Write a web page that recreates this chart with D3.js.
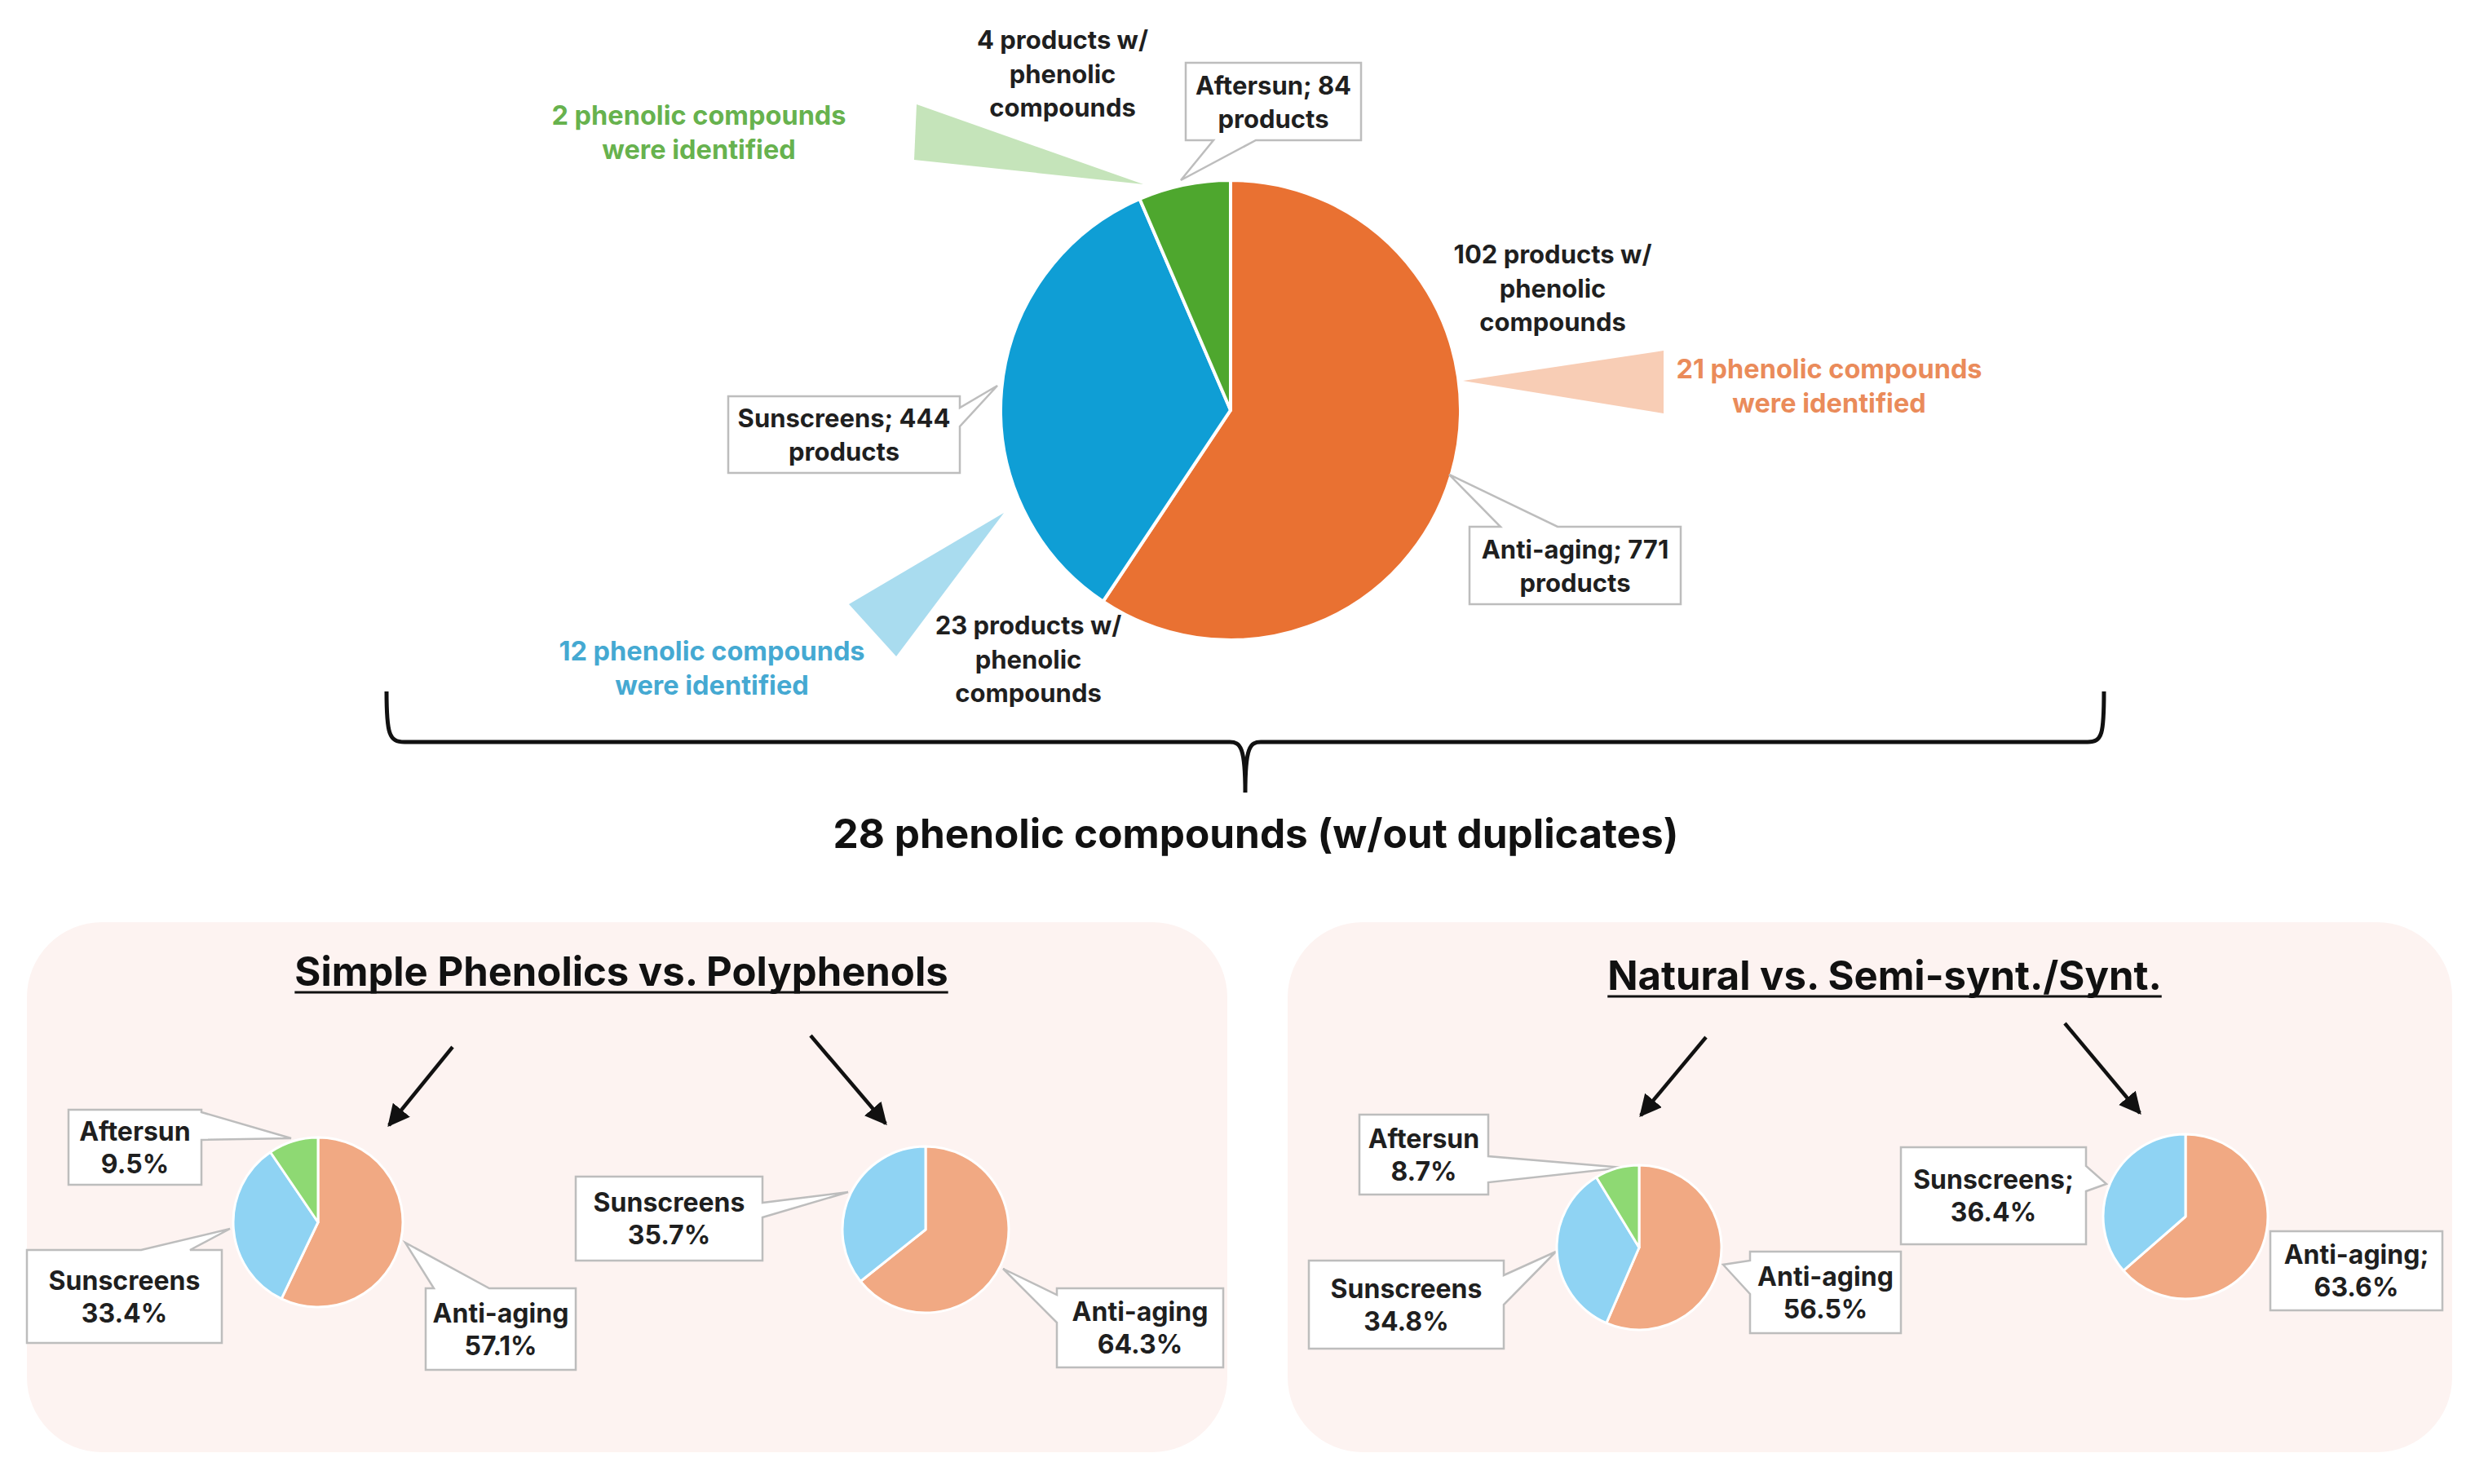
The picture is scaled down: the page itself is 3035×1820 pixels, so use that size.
<!DOCTYPE html>
<html><head><meta charset="utf-8">
<script src="https://cdn.jsdelivr.net/npm/d3@7"></script>
<style>html,body{margin:0;padding:0;background:#fff;}svg{display:block;}</style>
</head><body>
<div id="chart"></div>
<script>
// ---------- DATA ----------
const mainCategories = ["Anti-aging", "Sunscreens", "Aftersun"];
const mainProducts = [771, 444, 84];
const mainWithPhenolic = [102, 23, 4];
const mainCompoundsFound = [21, 12, 2];
const totalUniqueCompounds = 28;

const panelTitles = ["Simple Phenolics vs. Polyphenols", "Natural vs. Semi-synt./Synt."];
const simpleCategories = ["Anti-aging", "Sunscreens", "Aftersun"];
const simpleShares = [57.1, 33.4, 9.5];
const polyCategories = ["Anti-aging", "Sunscreens"];
const polyShares = [64.3, 35.7];
const naturalCategories = ["Anti-aging", "Sunscreens", "Aftersun"];
const naturalShares = [56.5, 34.8, 8.7];
const synthCategories = ["Anti-aging", "Sunscreens"];
const synthShares = [63.6, 36.4];

// ---------- STYLE ----------
const FONT = "Inter, 'Noto Sans', sans-serif";
const darkColor = {"Anti-aging": "#E97132", "Sunscreens": "#0F9ED5", "Aftersun": "#4EA72E"};
const lightColor = {"Anti-aging": "#F1A983", "Sunscreens": "#8FD3F3", "Aftersun": "#8ED973"};
const wedgeColor = {"Anti-aging": "#F8CDB5", "Sunscreens": "#A9DCEF", "Aftersun": "#C5E4BA"};
const noteColor = {"Anti-aging": "#EA8B5A", "Sunscreens": "#45A9D2", "Aftersun": "#67B24E"};

const W = 3035, H = 1820;
const svg = d3.select("#chart").append("svg").attr("width", W).attr("height", H);
svg.append("rect").attr("width", W).attr("height", H).attr("fill", "#fff");

// ---------- helpers ----------
function calloutPath(b, w) {
  const p = d3.path();
  p.moveTo(b.x0, b.y0);
  if (w && w.edge === "top") { p.lineTo(w.a, b.y0); p.lineTo(w.tx, w.ty); p.lineTo(w.b, b.y0); }
  p.lineTo(b.x1, b.y0);
  if (w && w.edge === "right") { p.lineTo(b.x1, w.a); p.lineTo(w.tx, w.ty); p.lineTo(b.x1, w.b); }
  p.lineTo(b.x1, b.y1);
  if (w && w.edge === "bottom") { p.lineTo(w.b, b.y1); p.lineTo(w.tx, w.ty); p.lineTo(w.a, b.y1); }
  p.lineTo(b.x0, b.y1);
  if (w && w.edge === "left") { p.lineTo(b.x0, w.b); p.lineTo(w.tx, w.ty); p.lineTo(b.x0, w.a); }
  p.closePath();
  return p.toString();
}
function multiText(g, lines, cx, cy, size, color, weight, lh) {
  const t = g.append("text").attr("text-anchor", "middle").attr("font-family", FONT)
    .attr("font-size", size).attr("font-weight", weight || 700).attr("fill", color || "#1f1f1f");
  const n = lines.length;
  lines.forEach((s, i) => {
    t.append("tspan").attr("x", cx).attr("y", cy + (i - (n - 1) / 2) * lh)
      .attr("dominant-baseline", "central").text(s);
  });
  return t;
}
function callout(g, box, wedge, lines, size, lh) {
  g.append("path").attr("d", calloutPath(box, wedge)).attr("fill", "#fff")
    .attr("stroke", "#BDBDBD").attr("stroke-width", 2.5).attr("stroke-linejoin", "miter");
  multiText(g, lines, (box.x0 + box.x1) / 2, (box.y0 + box.y1) / 2, size, "#1f1f1f", 700, lh);
}

// ---------- MAIN PIE ----------
const main = {cx: 1509, cy: 503, r: 282};
const mainData = mainCategories.map((c, i) => ({cat: c, products: mainProducts[i], withPh: mainWithPhenolic[i], found: mainCompoundsFound[i]}));
const pie = d3.pie().sort(null).value(d => d.products);
const arcMain = d3.arc().innerRadius(0).outerRadius(main.r);
const gMain = svg.append("g");

const mainLayout = {
  "Anti-aging": {
    wedge: [[1794, 467], [2040, 430], [2040, 507]],
    note: [2243, 473],
    ph: [1904, 353],
    box: {x0: 1802, y0: 646, x1: 2061, y1: 741}, bw: {edge: "top", a: 1840, b: 1910, tx: 1777, ty: 582}
  },
  "Sunscreens": {
    wedge: [[1231, 629], [1041, 741], [1099, 805]],
    note: [873, 819],
    ph: [1261, 808],
    box: {x0: 893, y0: 486, x1: 1177, y1: 580}, bw: {edge: "right", a: 500, b: 523, tx: 1223, ty: 473}
  },
  "Aftersun": {
    wedge: [[1402, 226], [1124, 128], [1121, 196]],
    note: [857, 162],
    ph: [1303, 90],
    box: {x0: 1454, y0: 77, x1: 1669, y1: 172}, bw: {edge: "bottom", a: 1488, b: 1540, tx: 1448, ty: 221}
  }
};
mainData.forEach(d => {
  const L = mainLayout[d.cat];
  gMain.append("polygon").attr("points", L.wedge.map(p => p.join(",")).join(" ")).attr("fill", wedgeColor[d.cat]);
});

gMain.append("g").attr("transform", `translate(${main.cx},${main.cy})`)
  .selectAll("path").data(pie(mainData)).join("path")
  .attr("d", arcMain).attr("fill", d => darkColor[d.data.cat])
  .attr("stroke", "#fff").attr("stroke-width", 4).attr("stroke-linejoin", "round");

mainData.forEach(d => {
  const L = mainLayout[d.cat];
  multiText(gMain, [`${d.found} phenolic compounds`, "were identified"], L.note[0], L.note[1], 32.5, noteColor[d.cat], 700, 42);
  multiText(gMain, [`${d.withPh} products w/`, "phenolic", "compounds"], L.ph[0], L.ph[1], 31, "#1f1f1f", 700, 41.5);
  callout(gMain, L.box, L.bw, [`${d.cat}; ${d.products}`, "products"], 31, 41);
});

// brace
const brace = d3.path();
brace.moveTo(474, 848);
brace.bezierCurveTo(474, 900, 477, 910, 496, 910);
brace.lineTo(1508, 910);
brace.bezierCurveTo(1521, 910, 1527, 916, 1527, 972);
brace.bezierCurveTo(1527, 916, 1533, 910, 1546, 910);
brace.lineTo(2560, 910);
brace.bezierCurveTo(2578, 910, 2580, 900, 2580, 848);
svg.append("path").attr("d", brace.toString()).attr("fill", "none").attr("stroke", "#111").attr("stroke-width", 5);

svg.append("text").attr("x", 1540).attr("y", 1022).attr("text-anchor", "middle")
  .attr("dominant-baseline", "central").attr("font-family", FONT).attr("font-weight", 700)
  .attr("font-size", 49.5).attr("fill", "#111")
  .text(`${totalUniqueCompounds} phenolic compounds (w/out duplicates)`);

// ---------- PANELS ----------
const defs = svg.append("defs");
defs.append("marker").attr("id", "ah").attr("viewBox", "0 0 10 10").attr("refX", 9).attr("refY", 5)
  .attr("markerWidth", 6).attr("markerHeight", 6).attr("markerUnits", "strokeWidth").attr("orient", "auto")
  .append("path").attr("d", "M0,0 L10,5 L0,10 z").attr("fill", "#111");

const panels = [
  {x: 33, y: 1131, w: 1472, h: 650, title: panelTitles[0], tx: 762, ty: 1191,
   arrows: [[555, 1284, 477, 1380], [994, 1270, 1086, 1378]]},
  {x: 1579, y: 1131, w: 1428, h: 650, title: panelTitles[1], tx: 2311, ty: 1196,
   arrows: [[2092, 1272, 2012, 1368], [2532, 1255, 2624, 1365]]}
];
panels.forEach(p => {
  svg.append("rect").attr("x", p.x).attr("y", p.y).attr("width", p.w).attr("height", p.h)
    .attr("rx", 92).attr("fill", "#FDF3F1");
  const t = svg.append("text").attr("x", p.tx).attr("y", p.ty).attr("text-anchor", "middle")
    .attr("dominant-baseline", "central").attr("font-family", FONT).attr("font-weight", 700)
    .attr("font-size", 49).attr("fill", "#111").text(p.title);
  const bb = t.node().getBBox();
  svg.append("line").attr("x1", bb.x).attr("x2", bb.x + bb.width).attr("y1", p.ty + 26).attr("y2", p.ty + 26)
    .attr("stroke", "#111").attr("stroke-width", 3);
  p.arrows.forEach(a => {
    svg.append("line").attr("x1", a[0]).attr("y1", a[1]).attr("x2", a[2]).attr("y2", a[3])
      .attr("stroke", "#111").attr("stroke-width", 4.5).attr("marker-end", "url(#ah)");
  });
});

// ---------- SMALL PIES ----------
const smallPies = [
  {cats: simpleCategories, vals: simpleShares, cx: 390, cy: 1499, r: 104, sep: "",
   labels: {
     "Aftersun": {box: {x0: 84, y0: 1361, x1: 247, y1: 1453}, w: {edge: "right", a: 1364, b: 1398, tx: 357, ty: 1396}},
     "Sunscreens": {box: {x0: 33, y0: 1533, x1: 272, y1: 1647}, w: {edge: "top", a: 173, b: 233, tx: 282, ty: 1507}},
     "Anti-aging": {box: {x0: 522, y0: 1580, x1: 706, y1: 1680}, w: {edge: "top", a: 532, b: 600, tx: 497, ty: 1524}}
   }},
  {cats: polyCategories, vals: polyShares, cx: 1135, cy: 1508, r: 102, sep: "",
   labels: {
     "Sunscreens": {box: {x0: 706, y0: 1443, x1: 935, y1: 1546}, w: {edge: "right", a: 1475, b: 1493, tx: 1040, ty: 1462}},
     "Anti-aging": {box: {x0: 1296, y0: 1580, x1: 1500, y1: 1677}, w: {edge: "left", a: 1588, b: 1622, tx: 1230, ty: 1556}}
   }},
  {cats: naturalCategories, vals: naturalShares, cx: 2010, cy: 1530, r: 101, sep: "",
   labels: {
     "Aftersun": {box: {x0: 1667, y0: 1367, x1: 1825, y1: 1465}, w: {edge: "right", a: 1418, b: 1450, tx: 1990, ty: 1432}},
     "Sunscreens": {box: {x0: 1605, y0: 1546, x1: 1844, y1: 1654}, w: {edge: "right", a: 1564, b: 1600, tx: 1908, ty: 1535}},
     "Anti-aging": {box: {x0: 2146, y0: 1535, x1: 2331, y1: 1635}, w: {edge: "left", a: 1546, b: 1587, tx: 2113, ty: 1551}}
   }},
  {cats: synthCategories, vals: synthShares, cx: 2680, cy: 1492, r: 101, sep: ";",
   labels: {
     "Sunscreens": {box: {x0: 2331, y0: 1407, x1: 2558, y1: 1526}, w: {edge: "right", a: 1430, b: 1461, tx: 2583, ty: 1452}},
     "Anti-aging": {box: {x0: 2784, y0: 1510, x1: 2995, y1: 1607}, w: null}
   }}
];
const pieS = d3.pie().sort(null).value(d => d.v);
smallPies.forEach(sp => {
  const data = sp.cats.map((c, i) => ({cat: c, v: sp.vals[i]}));
  const arc = d3.arc().innerRadius(0).outerRadius(sp.r);
  const g = svg.append("g");
  data.forEach(d => {
    const L = sp.labels[d.cat];
    callout(g, L.box, L.w, [d.cat + sp.sep, d3.format(".1f")(d.v) + "%"], 32, 40);
  });
  g.append("g").attr("transform", `translate(${sp.cx},${sp.cy})`)
    .selectAll("path").data(pieS(data)).join("path")
    .attr("d", arc).attr("fill", d => lightColor[d.data.cat])
    .attr("stroke", "#fff").attr("stroke-width", 3).attr("stroke-linejoin", "round");
});
</script>
</body></html>
